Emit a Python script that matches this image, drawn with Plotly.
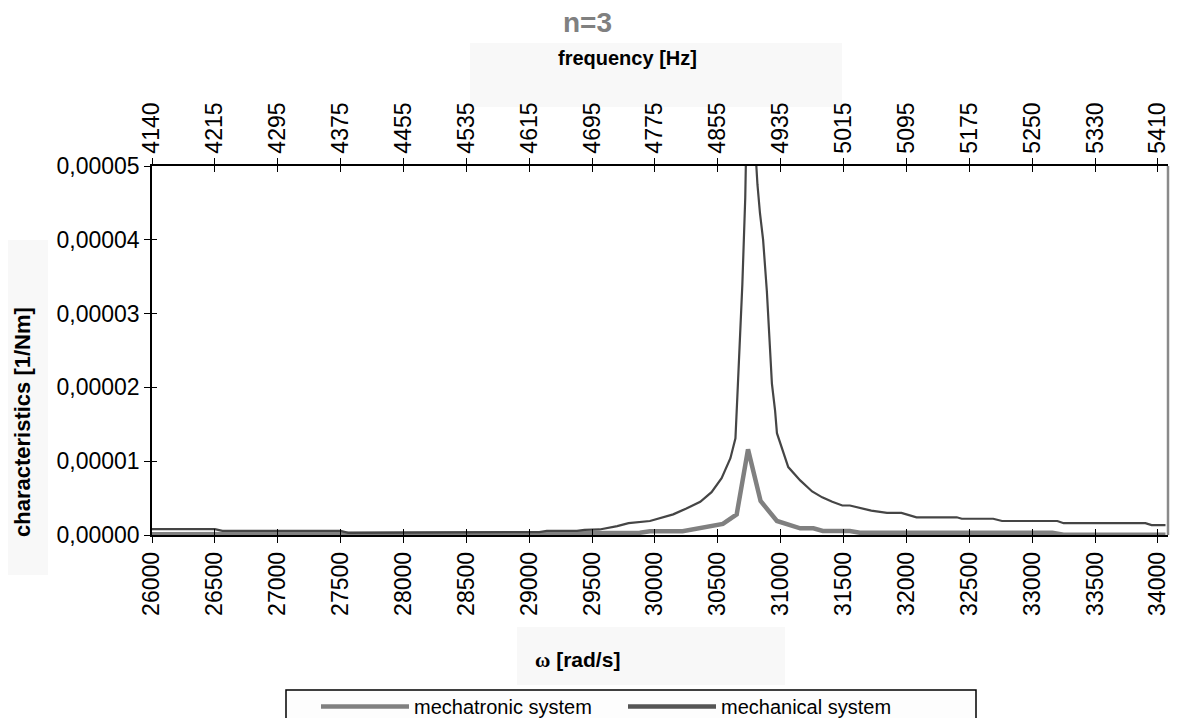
import plotly.graph_objects as go

# ---------------- data ----------------
omega_mech = [26000, 26500, 26560, 27500, 27560, 28780, 28840, 29080, 29140, 29380,
              29440, 29560, 29700, 29790, 29960, 30040, 30145, 30250, 30360, 30450,
              30530, 30600, 30640, 30655, 30670, 30695, 30718, 30740, 30765, 30785,
              30815, 30835, 30860, 30890, 30930, 30955, 30970, 31060, 31155, 31250,
              31330, 31410, 31490, 31550, 31640, 31720, 31845, 31960, 32080, 32400,
              32440, 32690, 32760, 33200, 33250, 33900, 33950, 34060]
val_mech = [8.0e-7, 8.0e-7, 5.5e-7, 5.5e-7, 3.0e-7, 3.0e-7, 4.0e-7, 4.0e-7, 5.5e-7, 5.5e-7,
            7.0e-7, 7.5e-7, 1.2e-6, 1.6e-6, 1.9e-6, 2.3e-6, 2.8e-6, 3.6e-6, 4.5e-6, 5.8e-6,
            7.7e-6, 1.04e-5, 1.31e-5, 1.87e-5, 2.4e-5, 3.4e-5, 4.57e-5, 6.0e-5, 9.0e-5, 5.6e-5,
            4.75e-5, 4.36e-5, 4.0e-5, 3.3e-5, 2.05e-5, 1.69e-5, 1.38e-5, 9.2e-6, 7.4e-6, 5.9e-6,
            5.1e-6, 4.5e-6, 4.0e-6, 4.0e-6, 3.6e-6, 3.3e-6, 3.0e-6, 3.0e-6, 2.4e-6, 2.4e-6,
            2.2e-6, 2.2e-6, 1.9e-6, 1.9e-6, 1.6e-6, 1.6e-6, 1.35e-6, 1.35e-6]

omega_mtr = [26000, 28200, 28260, 29400, 29880, 29960, 30220, 30335, 30540, 30650,
             30740, 30840, 30970, 31155, 31260, 31335, 31550, 31630, 33160, 33250, 34060]
val_mtr = [1.0e-7, 1.0e-7, 2.5e-7, 2.5e-7, 3.0e-7, 5.0e-7, 5.0e-7, 9.0e-7, 1.5e-6, 2.8e-6,
           1.16e-5, 4.6e-6, 1.9e-6, 9.0e-7, 9.0e-7, 5.5e-7, 5.5e-7, 3.0e-7, 3.0e-7, 5.0e-8, 5.0e-8]

omega_ticks = [26000, 26500, 27000, 27500, 28000, 28500, 29000, 29500, 30000,
               30500, 31000, 31500, 32000, 32500, 33000, 33500, 34000]
freq_labels = ["4140", "4215", "4295", "4375", "4455", "4535", "4615", "4695", "4775",
               "4855", "4935", "5015", "5095", "5175", "5250", "5330", "5410"]
y_ticks = [0, 1e-5, 2e-5, 3e-5, 4e-5, 5e-5]
y_labels = ["0,00000", "0,00001", "0,00002", "0,00003", "0,00004", "0,00005"]

series_names = ["mechatronic system", "mechanical system"]

# ---------------- figure ----------------
OFF = 8  # page body margin
W, H = 1172, 710
L, R, T, B = 144, 12, 158, 183
pw, ph = W - L - R, H - T - B
x_range = [26000, 34080]
y_range = [0, 5e-5]

FONT = "Liberation Sans, Arial, sans-serif"


def px(sx):
    return (sx - OFF - L) / pw


def py(sy):
    return (H - B - (sy - OFF)) / ph


fig = go.Figure()
fig.add_trace(go.Scatter(x=omega_mtr, y=val_mtr, mode="lines", name=series_names[0],
                         line=dict(color="#808080", width=4.5)))
fig.add_trace(go.Scatter(x=omega_mech, y=val_mech, mode="lines", name=series_names[1],
                         showlegend=False, line=dict(color="#454545", width=2.2)))
# legend entry for the mechanical system (thicker sample line, as in the reference)
fig.add_trace(go.Scatter(x=[None], y=[None], mode="lines", name=series_names[1],
                         line=dict(color="#555555", width=4.5), hoverinfo="skip"))

tick_common = dict(range=x_range, tickmode="array", tickvals=omega_ticks,
                   ticklen=6, tickwidth=1.2, tickcolor="black", showgrid=False,
                   zeroline=False)

fig.update_layout(
    width=W, height=H,
    margin=dict(l=L, r=R, t=T, b=B, autoexpand=False),
    paper_bgcolor="white", plot_bgcolor="white",
    font=dict(family=FONT, size=23, color="black"),
    showlegend=True,
    xaxis=dict(**tick_common, ticktext=[str(v) for v in omega_ticks], ticks="outside",
               tickangle=-90, showline=True, linecolor="black", linewidth=1.5,
               tickfont=dict(size=23)),
    xaxis2=dict(**tick_common, ticktext=freq_labels, ticks="outside", side="top",
                overlaying="x", tickangle=-90, showline=True, linecolor="black",
                linewidth=1.5, tickfont=dict(size=23)),
    xaxis3=dict(**tick_common, ticks="inside", side="bottom", overlaying="x",
                showticklabels=False, showline=False),
    xaxis4=dict(**tick_common, ticks="inside", side="top", overlaying="x",
                showticklabels=False, showline=False),
    yaxis=dict(range=y_range, tickmode="array", tickvals=y_ticks, ticktext=y_labels,
               ticks="outside", ticklen=6, tickwidth=1.2, tickcolor="black",
               showline=True, linecolor="black", linewidth=1.5, showgrid=False,
               zeroline=False, tickfont=dict(size=23)),
    yaxis2=dict(range=y_range, tickmode="array", tickvals=y_ticks, overlaying="y",
                side="left", ticks="inside", ticklen=5, tickwidth=1.2, tickcolor="black",
                showticklabels=False, showline=False, showgrid=False, zeroline=False),
    legend=dict(orientation="h", x=px(316), xanchor="left", y=py(687), yanchor="top",
                bgcolor="rgba(0,0,0,0)", borderwidth=0,
                font=dict(size=20, family=FONT), entrywidth=204, entrywidthmode="pixels",
                itemwidth=88),
)

# invisible traces to bind the extra axes
for xa in ["x2", "x3", "x4"]:
    fig.add_trace(go.Scatter(x=[x_range[0]], y=[0], xaxis=xa, yaxis="y2", mode="lines",
                             showlegend=False, hoverinfo="skip", line=dict(width=0)))

# right border of plot area (gray)
fig.add_shape(type="line", xref="paper", yref="paper", x0=1, x1=1, y0=0, y1=1,
              line=dict(color="#8a8a8a", width=2.5), layer="above")

# light boxes behind axis titles
box = "#f8f8f8"
fig.add_shape(type="rect", xref="paper", yref="paper", x0=px(470), x1=px(842),
              y0=py(107), y1=py(43), fillcolor=box, line=dict(width=0), layer="below")
fig.add_shape(type="rect", xref="paper", yref="paper", x0=px(517), x1=px(785),
              y0=py(685), y1=py(627), fillcolor=box, line=dict(width=0), layer="below")
fig.add_shape(type="rect", xref="paper", yref="paper", x0=px(0), x1=px(48),
              y0=py(575), y1=py(240), fillcolor=box, line=dict(width=0), layer="below")
# legend frame
fig.add_shape(type="rect", xref="paper", yref="paper", x0=px(286), x1=px(976),
              y0=py(740), y1=py(690), fillcolor="#fdfdfd",
              line=dict(color="black", width=1.5), layer="below")

ann = dict(xref="paper", yref="paper", showarrow=False, xanchor="center", yanchor="middle")
fig.add_annotation(text="<b>n=3</b>", x=px(587), y=py(22),
                   font=dict(size=28, color="#808080", family=FONT), **ann)
fig.add_annotation(text="<b>frequency [Hz]</b>", x=px(627), y=py(58),
                   font=dict(size=20, color="black", family=FONT), **ann)
fig.add_annotation(text="<b><span style='font-family:Liberation Serif, Times New Roman, serif'>ω</span> [rad/s]</b>",
                   x=px(577), y=py(660),
                   font=dict(size=21, color="black", family=FONT), **ann)
fig.add_annotation(text="<b>characteristics [1/Nm]</b>", x=px(22), y=py(422), textangle=-90,
                   font=dict(size=22, color="black", family=FONT), **ann)

fig.write_html("out.html")
